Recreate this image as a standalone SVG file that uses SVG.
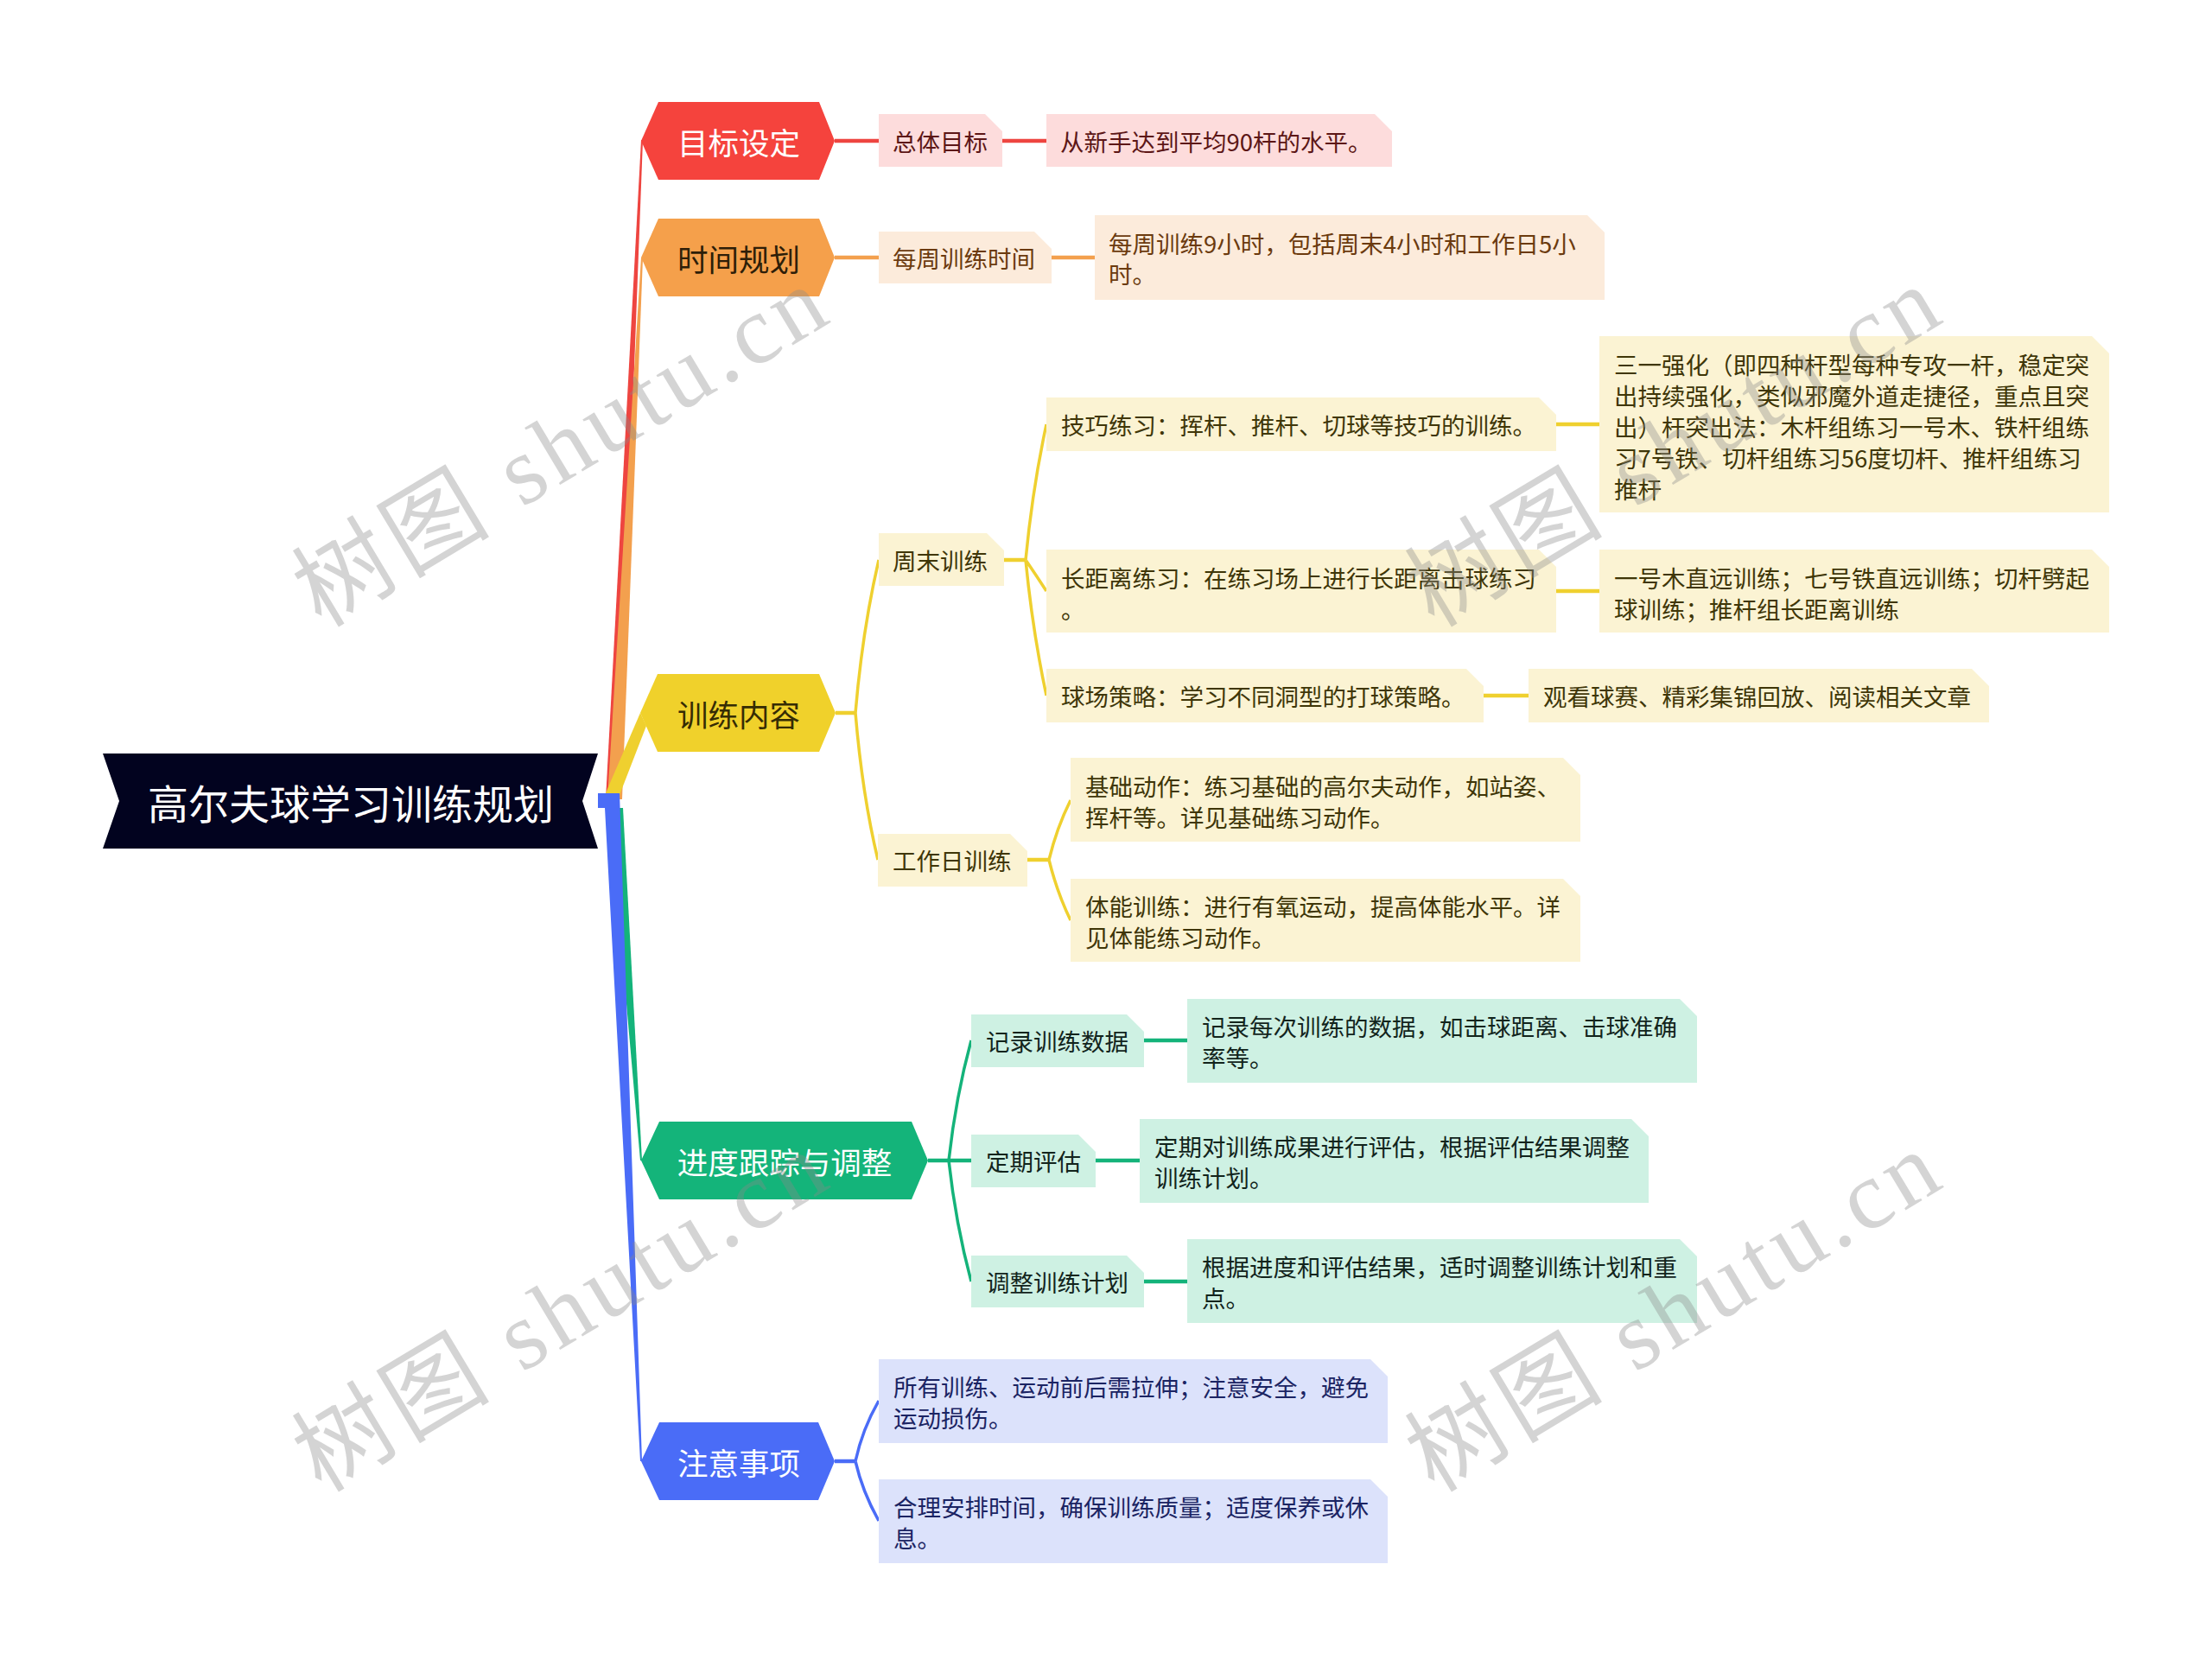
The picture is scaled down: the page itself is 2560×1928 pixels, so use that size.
<svg xmlns="http://www.w3.org/2000/svg" width="2560" height="1928" viewBox="0 0 2560 1928">
<style>
text{font-family:"Noto Sans CJK SC","Noto Sans",sans-serif;dominant-baseline:central}
.root{font-size:47px;fill:#ffffff}
.l1{font-size:35.5px;text-anchor:middle}
.t{font-size:27.5px}
.w{fill:#ffffff}
.tr{fill:#5c1616}.to{fill:#6b3a0e}.ty{fill:#3f3608}.tg{fill:#12241c}.tb{fill:#1b2463}
.br{fill:#FDDCDC}.bo{fill:#FCEBDB}.by{fill:#FBF3D3}.bg{fill:#CEF1E3}.bb{fill:#DCE2FB}
.cr{stroke:#EE4540}.co{stroke:#F3A04E}.cy{stroke:#EFD02F}.cg{stroke:#14B37A}.cb{stroke:#4A6CF7}
.c{fill:none;stroke-width:4.5}
.j{fill:none;stroke-width:3.5}
.wm{font-family:"Liberation Serif","Noto Sans CJK SC",serif;font-size:112px;fill:#8a8a8a;opacity:0.36;text-anchor:middle}
</style>
<rect width="2560" height="1928" fill="#ffffff"/>

<g id="connectors">
  <polygon points="701,925 715,925 744,162 742,162" fill="#EE4540"/>
  <polygon points="703,925 720,925 744,298 742,298" fill="#F3A04E"/>
  <polygon points="700,920 717,920 748,840 741,825" fill="#EFD02F"/>
  <polygon points="705,935 721,935 743,1343 741,1343" fill="#14B37A"/>
  <polygon points="692,918 717,918 743,1691 741,1691 700,935 692,935" fill="#4A6CF7"/>

  <path class="c cr" d="M966,163 H1017 M1160,163 H1211"/>
  <path class="c co" d="M966,298 H1017 M1217,298 H1267"/>
  <path class="c cy" d="M967,825 H990"/>
  <path class="j cy" d="M990,825 Q998,730 1017,648 M990,825 Q998,920 1016,995"/>
  <path class="c cy" d="M1162,648 H1187"/>
  <path class="j cy" d="M1187,648 Q1195,565 1211,491 M1187,648 Q1198,664 1211,684 M1187,648 Q1195,730 1211,805"/>
  <path class="c cy" d="M1801,491 H1851 M1801,684 H1851 M1717,805 H1769"/>
  <path class="c cy" d="M1189,995 H1214"/>
  <path class="j cy" d="M1214,995 Q1223,958 1239,926 M1214,995 Q1223,1032 1239,1065"/>
  <path class="c cg" d="M1074,1343 H1124"/>
  <path class="j cg" d="M1098,1343 Q1106,1270 1124,1204 M1098,1343 Q1106,1416 1124,1483"/>
  <path class="c cg" d="M1324,1204 H1374 M1268,1343 H1319 M1324,1483 H1374"/>
  <path class="c cb" d="M966,1691 H990"/>
  <path class="j cb" d="M990,1691 Q998,1654 1017,1621 M990,1691 Q998,1726 1017,1760"/>
</g>

<g id="root">
  <polygon points="119,872 692,872 674,927 692,982 119,982 138,927" fill="#02031F"/>
  <text class="root" x="406" y="927" text-anchor="middle">高尔夫球学习训练规划</text>
</g>

<g id="n-goal">
  <polygon points="742,163 762,118 948,118 966,163 948,208 762,208" fill="#F5433D"/>
  <text class="l1 w" x="855" y="163">目标设定</text>
</g>
<g id="n-time">
  <polygon points="742,298 762,253 948,253 966,298 948,343 762,343" fill="#F5A04B"/>
  <text class="l1" x="855" y="298" fill="#2e1e08">时间规划</text>
</g>
<g id="n-content">
  <polygon points="741,825 761,780 948,780 967,825 948,870 761,870" fill="#F0D12B"/>
  <text class="l1" x="855" y="825" fill="#352c04">训练内容</text>
</g>
<g id="n-progress">
  <polygon points="742,1343 763,1298 1055,1298 1074,1343 1055,1388 763,1388" fill="#14B47A"/>
  <text class="l1 w" x="908" y="1343">进度跟踪与调整</text>
</g>
<g id="n-notes">
  <polygon points="742,1691 763,1646 947,1646 966,1691 947,1736 763,1736" fill="#4A6CF7"/>
  <text class="l1 w" x="855" y="1691">注意事项</text>
</g>

<g id="n-overall">
  <path class="br" d="M1017,132 H1140 L1160,152 V193 H1017 Z"/>
  <text class="t tr" x="1033" y="163">总体目标</text>
</g>
<g id="n-overall-d">
  <path class="br" d="M1211,132 H1591 L1611,152 V193 H1211 Z"/>
  <text class="t tr" x="1227" y="163">从新手达到平均90杆的水平。</text>
</g>

<g id="n-weekly">
  <path class="bo" d="M1017,268 H1197 L1217,288 V328 H1017 Z"/>
  <text class="t to" x="1033" y="298">每周训练时间</text>
</g>
<g id="n-weekly-d">
  <path class="bo" d="M1267,249 H1837 L1857,269 V347 H1267 Z"/>
  <text class="t to" x="1283" y="281">每周训练9小时，包括周末4小时和工作日5小</text>
  <text class="t to" x="1283" y="316">时。</text>
</g>

<g id="n-weekend">
  <path class="by" d="M1017,617 H1142 L1162,637 V678 H1017 Z"/>
  <text class="t ty" x="1033" y="648">周末训练</text>
</g>
<g id="n-skill">
  <path class="by" d="M1211,460 H1781 L1801,480 V522 H1211 Z"/>
  <text class="t ty" x="1228" y="491">技巧练习：挥杆、推杆、切球等技巧的训练。</text>
</g>
<g id="n-skill-d">
  <path class="by" d="M1851,389 H2421 L2441,409 V593 H1851 Z"/>
  <text class="t ty" x="1868" y="421">三一强化（即四种杆型每种专攻一杆，稳定突</text>
  <text class="t ty" x="1868" y="457">出持续强化，类似邪魔外道走捷径，重点且突</text>
  <text class="t ty" x="1868" y="493">出）杆突出法：木杆组练习一号木、铁杆组练</text>
  <text class="t ty" x="1868" y="529">习7号铁、切杆组练习56度切杆、推杆组练习</text>
  <text class="t ty" x="1868" y="565">推杆</text>
</g>
<g id="n-long">
  <path class="by" d="M1211,636 H1781 L1801,656 V732 H1211 Z"/>
  <text class="t ty" x="1228" y="668">长距离练习：在练习场上进行长距离击球练习</text>
  <text class="t ty" x="1228" y="704">。</text>
</g>
<g id="n-long-d">
  <path class="by" d="M1851,636 H2421 L2441,656 V732 H1851 Z"/>
  <text class="t ty" x="1868" y="668">一号木直远训练；七号铁直远训练；切杆劈起</text>
  <text class="t ty" x="1868" y="704">球训练；推杆组长距离训练</text>
</g>
<g id="n-course">
  <path class="by" d="M1211,774 H1697 L1717,794 V836 H1211 Z"/>
  <text class="t ty" x="1228" y="805">球场策略：学习不同洞型的打球策略。</text>
</g>
<g id="n-course-d">
  <path class="by" d="M1769,774 H2282 L2302,794 V836 H1769 Z"/>
  <text class="t ty" x="1786" y="805">观看球赛、精彩集锦回放、阅读相关文章</text>
</g>
<g id="n-workday">
  <path class="by" d="M1016,965 H1169 L1189,985 V1026 H1016 Z"/>
  <text class="t ty" x="1033" y="995">工作日训练</text>
</g>
<g id="n-basic">
  <path class="by" d="M1239,877 H1809 L1829,897 V974 H1239 Z"/>
  <text class="t ty" x="1256" y="909">基础动作：练习基础的高尔夫动作，如站姿、</text>
  <text class="t ty" x="1256" y="945">挥杆等。详见基础练习动作。</text>
</g>
<g id="n-fitness">
  <path class="by" d="M1239,1017 H1809 L1829,1037 V1113 H1239 Z"/>
  <text class="t ty" x="1256" y="1048">体能训练：进行有氧运动，提高体能水平。详</text>
  <text class="t ty" x="1256" y="1084">见体能练习动作。</text>
</g>

<g id="n-record">
  <path class="bg" d="M1124,1174 H1304 L1324,1194 V1235 H1124 Z"/>
  <text class="t tg" x="1141" y="1204">记录训练数据</text>
</g>
<g id="n-record-d">
  <path class="bg" d="M1374,1156 H1944 L1964,1176 V1253 H1374 Z"/>
  <text class="t tg" x="1391" y="1187">记录每次训练的数据，如击球距离、击球准确</text>
  <text class="t tg" x="1391" y="1223">率等。</text>
</g>
<g id="n-eval">
  <path class="bg" d="M1124,1313 H1248 L1268,1333 V1374 H1124 Z"/>
  <text class="t tg" x="1141" y="1343">定期评估</text>
</g>
<g id="n-eval-d">
  <path class="bg" d="M1319,1295 H1888 L1908,1315 V1392 H1319 Z"/>
  <text class="t tg" x="1336" y="1326">定期对训练成果进行评估，根据评估结果调整</text>
  <text class="t tg" x="1336" y="1362">训练计划。</text>
</g>
<g id="n-adjust">
  <path class="bg" d="M1124,1453 H1304 L1324,1473 V1513 H1124 Z"/>
  <text class="t tg" x="1141" y="1483">调整训练计划</text>
</g>
<g id="n-adjust-d">
  <path class="bg" d="M1374,1434 H1944 L1964,1454 V1531 H1374 Z"/>
  <text class="t tg" x="1391" y="1465">根据进度和评估结果，适时调整训练计划和重</text>
  <text class="t tg" x="1391" y="1501">点。</text>
</g>

<g id="n-note1">
  <path class="bb" d="M1017,1573 H1586 L1606,1593 V1670 H1017 Z"/>
  <text class="t tb" x="1034" y="1604">所有训练、运动前后需拉伸；注意安全，避免</text>
  <text class="t tb" x="1034" y="1640">运动损伤。</text>
</g>
<g id="n-note2">
  <path class="bb" d="M1017,1712 H1586 L1606,1732 V1809 H1017 Z"/>
  <text class="t tb" x="1034" y="1743">合理安排时间，确保训练质量；适度保养或休</text>
  <text class="t tb" x="1034" y="1779">息。</text>
</g>

<g id="watermarks">
  <text class="wm" transform="translate(648,517) rotate(-31)" textLength="690" lengthAdjust="spacing">树图 shutu.cn</text>
  <text class="wm" transform="translate(1936,517) rotate(-31)" textLength="690" lengthAdjust="spacing">树图 shutu.cn</text>
  <text class="wm" transform="translate(648,1518) rotate(-31)" textLength="690" lengthAdjust="spacing">树图 shutu.cn</text>
  <text class="wm" transform="translate(1936,1518) rotate(-31)" textLength="690" lengthAdjust="spacing">树图 shutu.cn</text>
</g>
</svg>
